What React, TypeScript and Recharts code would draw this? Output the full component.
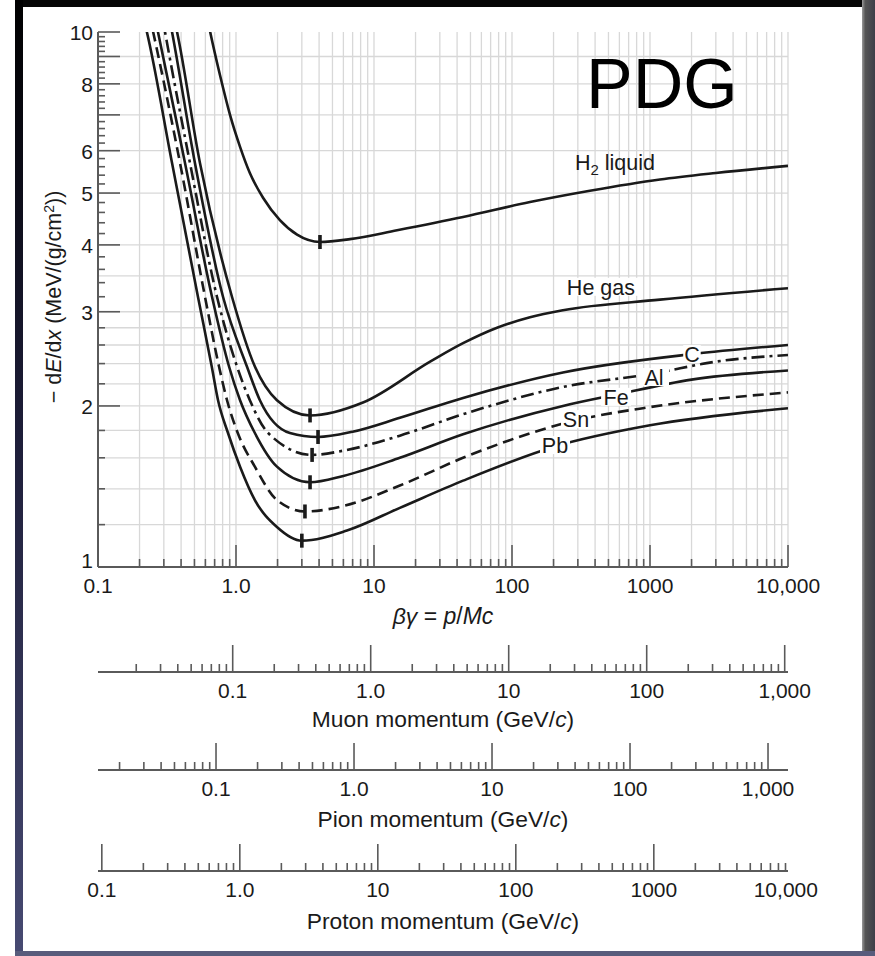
import React from 'react'
import { LineChart, Line, XAxis, YAxis, CartesianGrid, ReferenceDot } from 'recharts'

const FONT = '"Liberation Sans", Arial, Helvetica, sans-serif'
const INK = '#1a1a1a'
const AXIS = '#5a5a5a'

// particle masses (GeV/c^2), used to line the momentum scales up with βγ
const MUON_MASS = 0.10566
const PION_MASS = 0.13957
const PROTON_MASS = 0.93827

// curves: βγ and -dE/dx (MeV g^-1 cm^2)
const h2Bg = [0.62, 0.65, 0.766, 0.905, 1.07, 1.26, 1.57, 2.08, 2.77, 4.06, 6.7, 14.7, 44.2, 135, 367, 1181, 3000, 10000]
const h2Loss = [10.6, 10.0, 8.3, 7.0, 6.1, 5.45, 4.9, 4.45, 4.18, 4.05, 4.1, 4.26, 4.51, 4.81, 5.05, 5.3, 5.45, 5.62]

const heBg = [0.35, 0.374, 0.548, 0.935, 1.37, 1.98, 3.44, 8.32, 25.5, 44.2, 77.9, 135, 234, 1181, 10000]
const heLoss = [10.8, 10.0, 5.69, 3.2, 2.37, 2.05, 1.92, 2.03, 2.42, 2.62, 2.8, 2.93, 3.02, 3.16, 3.32]

const cBg = [0.325, 0.344, 0.504, 0.805, 1.2, 1.49, 2.46, 3.93, 7, 15.4, 44.2, 234, 2014, 10000]
const cLoss = [10.8, 10.0, 5.69, 3.2, 2.37, 2.05, 1.78, 1.75, 1.79, 1.9, 2.07, 2.31, 2.5, 2.6]

const alBg = [0.29, 0.306, 0.464, 0.728, 1.017, 1.26, 1.71, 3.56, 6, 15.4, 44.2, 234, 1069, 3000, 10000]
const alLoss = [10.8, 10.0, 5.69, 3.2, 2.37, 2.05, 1.78, 1.62, 1.65, 1.76, 1.93, 2.17, 2.3, 2.42, 2.49]

const feBg = [0.255, 0.272, 0.427, 0.67, 0.89, 1.07, 1.37, 1.98, 3.44, 6, 15.4, 44.2, 234, 568, 2000, 10000]
const feLoss = [10.8, 10.0, 5.69, 3.2, 2.37, 2.05, 1.78, 1.54, 1.44, 1.48, 1.6, 1.77, 2.0, 2.1, 2.24, 2.33]

const snBg = [0.235, 0.251, 0.393, 0.596, 0.753, 0.861, 1.03, 1.37, 1.98, 3.16, 6, 15.4, 44.2, 291, 1000, 10000]
const snLoss = [10.8, 10.0, 5.69, 3.2, 2.37, 2.05, 1.78, 1.54, 1.334, 1.27, 1.3, 1.42, 1.6, 1.88, 1.99, 2.12]

const pbBg = [0.21, 0.226, 0.344, 0.53, 0.667, 0.741, 0.875, 1.07, 1.37, 1.98, 3.0, 6.37, 15.4, 44.2, 205, 1000, 10000]
const pbLoss = [10.8, 10.0, 5.69, 3.2, 2.37, 2.05, 1.78, 1.54, 1.334, 1.188, 1.12, 1.17, 1.29, 1.45, 1.68, 1.84, 1.98]

// where each material has its minimum marker
const minBg = [4.06, 3.44, 3.93, 3.56, 3.44, 3.16, 3.0]
const minLoss = [4.05, 1.92, 1.75, 1.62, 1.44, 1.27, 1.12]

// in-plot labels
const labelText = ['H2 liquid', 'He gas', 'C', 'Al', 'Fe', 'Sn', 'Pb']
const labelBg = [557, 441, 2014, 1069, 568, 291, 205]
const labelLoss = [5.69, 3.34, 2.5, 2.265, 2.08, 1.89, 1.69]

// tick labels
const bgLabels: Record<string, string> = { '0.1': '0.1', '1': '1.0', '10': '10', '100': '100', '1000': '1000', '10000': '10,000' }
const muonLabels: Record<string, string> = { '0.1': '0.1', '1': '1.0', '10': '10', '100': '100', '1000': '1,000' }
const pionLabels: Record<string, string> = { '0.1': '0.1', '1': '1.0', '10': '10', '100': '100', '1000': '1,000' }
const protonLabels: Record<string, string> = { '0.1': '0.1', '1': '1.0', '10': '10', '100': '100', '1000': '1000', '10000': '10,000' }
const lossLabels: Record<string, string> = { '1': '1', '2': '2', '3': '3', '4': '4', '5': '5', '6': '6', '8': '8', '10': '10' }

const logTicks = (lo: number, hi: number) => {
  const out: number[] = []
  for (let e = -3; e <= 4; e++) {
    for (let m = 1; m <= 9; m++) {
      const v = Number((m * Math.pow(10, e)).toPrecision(4))
      if (v >= lo * 0.999 && v <= hi * 1.001) out.push(v)
    }
  }
  return out
}

const bgTicks = logTicks(0.1, 10000)
const muonTicks = logTicks(0.02, 1000)
const pionTicks = logTicks(0.02, 1000)
const protonTicks = [...logTicks(0.1, 9000), 10000]
const lossTicks = Array.from({ length: 46 }, (_, i) => Number((1 + 0.2 * i).toFixed(1)))
const lossGrid = [1.2, 1.4, 1.6, 1.8, 2, 2.2, 2.4, 2.6, 2.8, 3, 3.5, 4, 5, 6, 7, 8, 9]

const muonDomain = [0.1 * MUON_MASS, 10000 * MUON_MASS]
const pionDomain = [0.1 * PION_MASS, 10000 * PION_MASS]
const protonDomain = [0.1 * PROTON_MASS, 10000 * PROTON_MASS]

const series = (bg: number[], loss: number[]) => bg.map((b, i) => ({ bg: b, loss: loss[i] }))
// invisible carrier so each momentum scale gets its own domain
const span = (d: number[]) => d.map((p) => ({ p, loss: 1 }))

const isDecade = (v: number) => Math.abs(Math.log10(v) - Math.round(Math.log10(v))) < 1e-6

const BottomTick = (labels: Record<string, string>, major: number, minor: number, maxV = Infinity) => (props: any) => {
  const { x, y, payload } = props
  const v = payload.value
  const big = isDecade(v)
  const label = labels[String(v)]
  const inside = v <= maxV
  return (
    <g>
      {inside && <line x1={x} x2={x} y1={y} y2={y - (big ? major : minor)} stroke={AXIS} strokeWidth={1.6} />}
      {label && (
        <text x={inside ? x : x - 6} y={y + 26} textAnchor="middle" fontFamily={FONT} fontSize={21} fill={INK}>
          {label}
        </text>
      )}
    </g>
  )
}

const TopTick = (props: any) => {
  const { x, y, payload } = props
  const big = isDecade(payload.value)
  return <line x1={x} x2={x} y1={y} y2={y + (big ? 22 : 8)} stroke={AXIS} strokeWidth={1.6} />
}

const LeftTick = (props: any) => {
  const { x, y, payload } = props
  const v = payload.value
  const big = Number.isInteger(v)
  const label = lossLabels[String(v)]
  return (
    <g>
      <line x1={x} x2={x + (big ? 22 : 7)} y1={y} y2={y} stroke={AXIS} strokeWidth={1.6} />
      {label && (
        <text x={x - 5} y={v === 1 ? y + 1 : y + 8} textAnchor="end" fontFamily={FONT} fontSize={21} fill={INK}>
          {label}
        </text>
      )}
    </g>
  )
}

const RightTick = (props: any) => {
  const { x, y, payload } = props
  const big = Number.isInteger(payload.value)
  return <line x1={x} x2={x - (big ? 22 : 7)} y1={y} y2={y} stroke={AXIS} strokeWidth={1.6} />
}

const AxisTitle = (text: React.ReactNode, dy: number, size: number) => (props: any) => {
  const vb = props.viewBox
  return (
    <text x={vb.x + vb.width / 2} y={vb.y + dy} textAnchor="middle" fontFamily={FONT} fontSize={size} fill={INK}>
      {text}
    </text>
  )
}

const momentumTitle = (name: string) => (
  <>
    <tspan>{name} momentum (GeV/</tspan>
    <tspan fontStyle="italic">c</tspan>
    <tspan>)</tspan>
  </>
)

const LossTitle = () => {
  const cy = 297
  const x = 61
  return (
    <text x={x} y={cy} transform={`rotate(-90, ${x}, ${cy})`} textAnchor="middle" fontFamily={FONT} fontSize={21.5} fill={INK}>
      <tspan>{'\u2212 d'}</tspan>
      <tspan fontStyle="italic">E</tspan>
      <tspan>/d</tspan>
      <tspan fontStyle="italic">x</tspan>
      <tspan> (MeV/(g/cm</tspan>
      <tspan dy={-7} fontSize={14}>2</tspan>
      <tspan dy={7}>))</tspan>
    </text>
  )
}

const MinMark = (props: any) => <rect x={props.cx - 1.8} y={props.cy - 7} width={3.6} height={14} fill={INK} />

const CurveLabel = (text: string) => (props: any) => {
  const { cx, cy } = props
  if (text === 'H2 liquid') {
    return (
      <text x={cx} y={cy + 7} textAnchor="middle" fontFamily={FONT} fontSize={21.5} fill={INK}>
        <tspan>H</tspan>
        <tspan dy={5} fontSize={15}>2</tspan>
        <tspan dy={-5}> liquid</tspan>
      </text>
    )
  }
  const w = text.length * 12.5 + 5
  return (
    <g>
      <rect x={cx - w / 2} y={cy - 9} width={w} height={18} fill="#fff" />
      <text x={cx} y={cy + 8} textAnchor="middle" fontFamily={FONT} fontSize={21.5} fill={INK}>
        {text}
      </text>
    </g>
  )
}

const curves = [
  { name: 'H2 liquid', data: series(h2Bg, h2Loss), dash: undefined },
  { name: 'He gas', data: series(heBg, heLoss), dash: undefined },
  { name: 'C', data: series(cBg, cLoss), dash: undefined },
  { name: 'Al', data: series(alBg, alLoss), dash: '13 5 3 5' },
  { name: 'Fe', data: series(feBg, feLoss), dash: undefined },
  { name: 'Sn', data: series(snBg, snLoss), dash: '11 6' },
  { name: 'Pb', data: series(pbBg, pbLoss), dash: undefined },
]

const momentumAxes = [
  { id: 1, domain: muonDomain, ticks: muonTicks, labels: muonLabels, height: 98, title: 'Muon', dy: 55, maxV: Infinity },
  { id: 2, domain: pionDomain, ticks: pionTicks, labels: pionLabels, height: 101, title: 'Pion', dy: 57, maxV: Infinity },
  { id: 3, domain: protonDomain, ticks: protonTicks, labels: protonLabels, height: 70, title: 'Proton', dy: 58, maxV: protonDomain[1] },
]

export default function App() {
  return (
    <div style={{ position: 'absolute', left: 0, top: 0, width: 875, height: 956, background: '#fff', overflow: 'hidden' }}>
      <div style={{ position: 'absolute', left: 15, top: 0, width: 860, height: 7, background: '#050505' }} />
      <div style={{ position: 'absolute', left: 15, top: 0, width: 8, height: 956, background: 'linear-gradient(180deg, #000 0%, #1d1d38 45%, #474a72 100%)' }} />
      <div style={{ position: 'absolute', left: 862, top: 0, width: 13, height: 956, background: 'linear-gradient(90deg, #9a9a9a 0%, #555 25%, #3e3e48 100%)' }} />
      <div style={{ position: 'absolute', left: 15, top: 951, width: 860, height: 5, background: '#585c7c' }} />
      <div style={{ position: 'absolute', left: 0, top: 0 }}>
        <LineChart width={875} height={956} margin={{ top: 32, right: 87, bottom: 15, left: 60 }}>
          <CartesianGrid
            xAxisId={0}
            yAxisId={0}
            verticalValues={bgTicks}
            horizontalValues={lossGrid}
            stroke="#d8d8d8"
            strokeWidth={1.3}
          />
          <XAxis
            xAxisId={0}
            dataKey="bg"
            type="number"
            scale="log"
            domain={[0.1, 10000]}
            allowDataOverflow
            ticks={bgTicks}
            interval={0}
            height={105}
            tickSize={0}
            tickMargin={0}
            tickLine={false}
            axisLine={{ stroke: AXIS, strokeWidth: 2 }}
            tick={BottomTick(bgLabels, 22, 8)}
            label={{
              content: AxisTitle(
                <>
                  <tspan fontStyle="italic">{'\u03b2\u03b3'}</tspan>
                  <tspan>{' = '}</tspan>
                  <tspan fontStyle="italic">p</tspan>
                  <tspan>/</tspan>
                  <tspan fontStyle="italic">Mc</tspan>
                </>,
                57,
                23,
              ),
            }}
          />
          {momentumAxes.map((a) => (
            <XAxis
              key={a.id}
              xAxisId={a.id}
              dataKey="p"
              type="number"
              scale="log"
              domain={a.domain}
              allowDataOverflow
              ticks={a.ticks}
              interval={0}
              height={a.height}
              tickSize={0}
              tickMargin={0}
              tickLine={false}
              axisLine={{ stroke: AXIS, strokeWidth: 2 }}
              tick={BottomTick(a.labels, 27, 8, a.maxV)}
              label={{ content: AxisTitle(momentumTitle(a.title), a.dy, 22.8) }}
            />
          ))}
          <XAxis
            xAxisId={4}
            orientation="top"
            dataKey="bg"
            type="number"
            scale="log"
            domain={[0.1, 10000]}
            allowDataOverflow
            ticks={bgTicks}
            interval={0}
            height={0}
            tickSize={0}
            tickMargin={0}
            tickLine={false}
            axisLine={{ stroke: AXIS, strokeWidth: 2 }}
            tick={TopTick}
          />
          <YAxis
            yAxisId={0}
            type="number"
            scale="log"
            domain={[1, 10]}
            allowDataOverflow
            ticks={lossTicks}
            interval={0}
            width={38}
            tickSize={0}
            tickMargin={0}
            tickLine={false}
            axisLine={{ stroke: AXIS, strokeWidth: 2 }}
            tick={LeftTick}
            label={{ content: LossTitle }}
          />
          <YAxis
            yAxisId={1}
            orientation="right"
            type="number"
            scale="log"
            domain={[1, 10]}
            allowDataOverflow
            ticks={lossTicks}
            interval={0}
            width={0}
            tickSize={0}
            tickMargin={0}
            tickLine={false}
            axisLine={{ stroke: AXIS, strokeWidth: 2 }}
            tick={RightTick}
          />
          {momentumAxes.map((a) => (
            <Line
              key={`span${a.id}`}
              xAxisId={a.id}
              yAxisId={1}
              data={span(a.domain)}
              dataKey="loss"
              stroke="none"
              dot={false}
              activeDot={false}
              legendType="none"
              isAnimationActive={false}
            />
          ))}
          <Line
            key="topspan"
            xAxisId={4}
            yAxisId={1}
            data={series([0.1, 10000], [1, 1])}
            dataKey="loss"
            stroke="none"
            dot={false}
            activeDot={false}
            legendType="none"
            isAnimationActive={false}
          />
          {curves.map((c) => (
            <Line
              key={c.name}
              xAxisId={0}
              yAxisId={0}
              data={c.data}
              dataKey="loss"
              type="monotone"
              stroke={INK}
              strokeWidth={2.6}
              strokeDasharray={c.dash}
              dot={false}
              activeDot={false}
              isAnimationActive={false}
            />
          ))}
          {minBg.map((b, i) => (
            <ReferenceDot key={`m${i}`} xAxisId={0} yAxisId={0} x={b} y={minLoss[i]} r={0} shape={MinMark} />
          ))}
          {labelText.map((t, i) => (
            <ReferenceDot key={t} xAxisId={0} yAxisId={0} x={labelBg[i]} y={labelLoss[i]} r={0} shape={CurveLabel(t)} />
          ))}
        </LineChart>
      </div>
      <div style={{ position: 'absolute', left: 586, top: 44, fontFamily: FONT, fontSize: 70, lineHeight: '80px', color: '#000' }}>PDG</div>
    </div>
  )
}
